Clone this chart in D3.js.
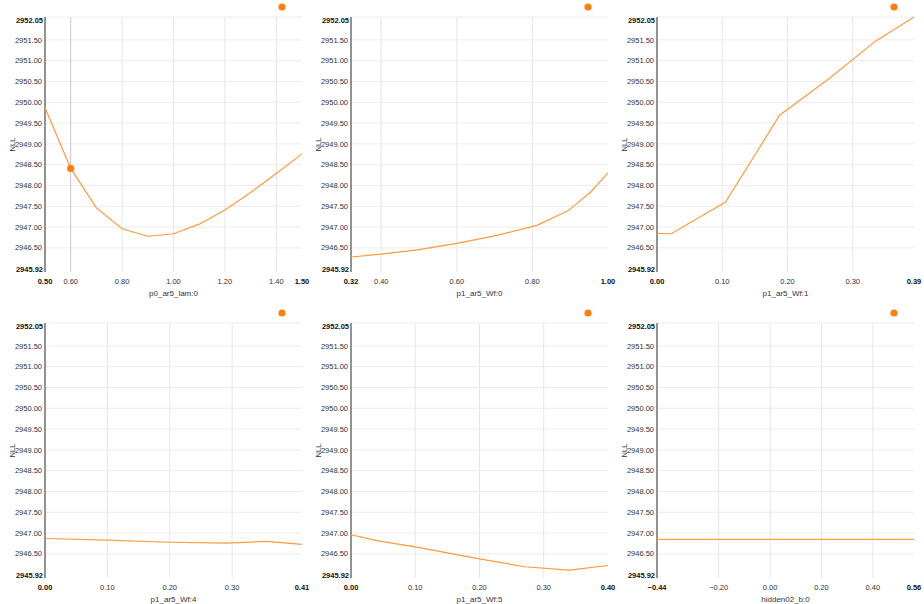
<!DOCTYPE html>
<html>
<head>
<meta charset="utf-8">
<script src="https://cdn.jsdelivr.net/npm/d3@7"></script>
<style>
  body { margin: 0; background: #fff; }
  text { font-family: "Liberation Sans", Arial, sans-serif; }
</style>
</head>
<body>
<div id="chart-area"></div>
<script>

// shared y range (NLL)
var yDomain = [2945.92, 2952.05];

var names = ["p0_ar5_lam:0", "p1_ar5_Wf:0", "p1_ar5_Wf:1", "p1_ar5_Wf:4", "p1_ar5_Wf:5", "hidden02_b:0"];
var xDomains = [[0.50, 1.50], [0.32, 1.00], [0.00, 0.394], [0.00, 0.412], [0.00, 0.40], [-0.44, 0.56]];

// profile curves, one x/y list per parameter
var xs0 = [0.5, 0.6, 0.7, 0.8, 0.9, 1.0, 1.1, 1.2, 1.3, 1.4, 1.5];
var ys0 = [2949.87, 2948.41, 2947.46, 2946.96, 2946.78, 2946.84, 2947.07, 2947.41, 2947.83, 2948.29, 2948.76];
var xs1 = [0.32, 0.40, 0.50, 0.60, 0.70, 0.812, 0.894, 0.955, 1.00];
var ys1 = [2946.28, 2946.35, 2946.46, 2946.61, 2946.79, 2947.04, 2947.39, 2947.85, 2948.31];
var xs2 = [0.00, 0.022, 0.105, 0.188, 0.263, 0.335, 0.394];
var ys2 = [2946.85, 2946.84, 2947.60, 2949.69, 2950.56, 2951.47, 2952.05];
var xs3 = [0.00, 0.10, 0.20, 0.29, 0.355, 0.412];
var ys3 = [2946.87, 2946.83, 2946.78, 2946.76, 2946.80, 2946.73];
var xs4 = [0.00, 0.04, 0.10, 0.20, 0.27, 0.34, 0.40];
var ys4 = [2946.96, 2946.82, 2946.67, 2946.38, 2946.19, 2946.11, 2946.22];
var xs5 = [-0.44, 0.56];
var ys5 = [2946.85, 2946.85];

var curvesX = [xs0, xs1, xs2, xs3, xs4, xs5];
var curvesY = [ys0, ys1, ys2, ys3, ys4, ys5];

// x tick values shown inside each panel
var xTicks = [
    [0.60, 0.80, 1.00, 1.20, 1.40],
    [0.40, 0.60, 0.80],
    [0.10, 0.20, 0.30],
    [0.10, 0.20, 0.30],
    [0.10, 0.20, 0.30],
    [-0.20, 0.00, 0.20, 0.40]
];

// highlighted point (current value) on the first panel
var markerX = [0.60, null, null, null, null, null];
var markerY = [2948.41, null, null, null, null, null];

var orange = "#ff7f0e";

var pw = 257, ph = 255;
var colX = [45, 351, 657], rowY = [17, 323];

var svg = d3.select("#chart-area")
    .append("svg")
    .attr("width", 924)
    .attr("height", 604);

var fmt = d3.format(".2f");

names.forEach(function(name, i) {
    var g = svg.append("g")
        .attr("transform", "translate(" + colX[i % 3] + "," + rowY[Math.floor(i / 3)] + ")");

    var x = d3.scaleLinear().domain(xDomains[i]).range([0, pw]);
    var y = d3.scaleLinear().domain(yDomain).range([ph, 0]);

    var xt = xTicks[i];
    // inner y ticks, dropping those too close to the ends
    var yt = y.ticks(12).filter(function(t) {
        return y(t) > 12 && y(t) < ph - 12;
    });

    // grid
    g.selectAll(".hgrid")
        .data(yt.concat([yDomain[1]]))
        .enter().append("line")
        .attr("x1", 0).attr("x2", pw)
        .attr("y1", function(d) { return y(d); })
        .attr("y2", function(d) { return y(d); })
        .attr("stroke", "#ececec")
        .attr("stroke-width", 1);

    g.selectAll(".vgrid")
        .data(xt)
        .enter().append("line")
        .attr("x1", function(d) { return x(d); })
        .attr("x2", function(d) { return x(d); })
        .attr("y1", 0).attr("y2", ph)
        .attr("stroke", function(d) { return d === markerX[i] ? "#c8c8c8" : "#e6e6e6"; })
        .attr("stroke-width", 1);

    // y axis line
    g.append("line")
        .attr("x1", 0).attr("x2", 0)
        .attr("y1", 0).attr("y2", ph)
        .attr("stroke", "#6e6e6e")
        .attr("stroke-width", 1.5);

    // y tick labels
    g.selectAll(".ylab")
        .data(yt)
        .enter().append("text")
        .attr("x", -3)
        .attr("y", function(d) { return y(d); })
        .attr("dy", "0.35em")
        .attr("text-anchor", "end")
        .style("font-size", "7.5px")
        .attr("fill", "#333")
        .text(fmt);

    g.selectAll(".yend")
        .data(yDomain)
        .enter().append("text")
        .attr("x", -2)
        .attr("y", function(d, k) { return k === 0 ? ph - 3 : 3; })
        .attr("dy", "0.35em")
        .attr("text-anchor", "end")
        .style("font-size", "7.5px")
        .style("font-weight", "bold")
        .attr("fill", "#111")
        .text(fmt);

    // x tick labels
    g.selectAll(".xlab")
        .data(xt)
        .enter().append("text")
        .attr("x", function(d) { return x(d); })
        .attr("y", ph + 9)
        .attr("dy", "0.35em")
        .attr("text-anchor", "middle")
        .style("font-size", "7.5px")
        .attr("fill", "#333")
        .text(fmt);

    g.selectAll(".xend")
        .data(xDomains[i])
        .enter().append("text")
        .attr("x", function(d) { return x(d); })
        .attr("y", ph + 9)
        .attr("dy", "0.35em")
        .attr("text-anchor", "middle")
        .style("font-size", "7.5px")
        .style("font-weight", "bold")
        .attr("fill", "#111")
        .text(fmt);

    // axis titles
    g.append("text")
        .attr("x", pw / 2)
        .attr("y", ph + 21)
        .attr("dy", "0.35em")
        .attr("text-anchor", "middle")
        .style("font-size", "8px")
        .attr("fill", "#333")
        .text(name);

    g.append("text")
        .attr("transform", "rotate(-90)")
        .attr("x", -ph / 2)
        .attr("y", -33)
        .attr("dy", "0.35em")
        .attr("text-anchor", "middle")
        .style("font-size", "7.5px")
        .attr("fill", "#333")
        .text("NLL");

    // curve
    var pts = d3.zip(curvesX[i], curvesY[i]);
    g.append("path")
        .datum(pts)
        .attr("fill", "none")
        .attr("stroke", "#ff9a3d")
        .attr("stroke-width", 1.2)
        .attr("d", d3.line()
            .x(function(d) { return x(d[0]); })
            .y(function(d) { return y(d[1]); }));

    if (markerX[i] !== null) {
        g.append("circle")
            .attr("cx", x(markerX[i]))
            .attr("cy", y(markerY[i]))
            .attr("r", 3.6)
            .attr("fill", orange);
    }

    // legend dot
    g.append("circle")
        .attr("cx", 237)
        .attr("cy", -10)
        .attr("r", 3.6)
        .attr("fill", orange);
});

</script>
</body>
</html>
